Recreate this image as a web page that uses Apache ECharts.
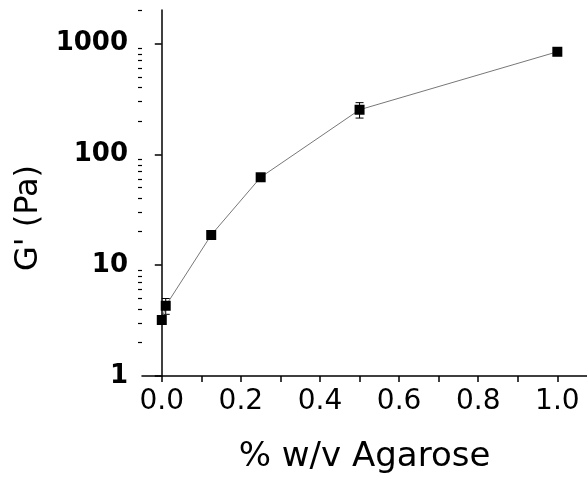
<!DOCTYPE html>
<html>
<head>
<meta charset="utf-8">
<script src="https://cdn.jsdelivr.net/npm/echarts@6/dist/echarts.min.js"></script>
<style>
  html, body { margin: 0; padding: 0; background: #fff; }
  #chart { width: 587px; height: 481px; }
</style>
</head>
<body>
<div id="chart"></div>
<script>
// agarose concentration (% w/v) vs storage modulus G' (Pa)
const agarose = [0, 0.01, 0.125, 0.25, 0.5, 1.0]
const gPrime = [3.2, 4.3, 18.7, 62, 252, 840]
const gErr = [0.2, 0.7, 1.6, 5, 40, 30]

const xTicks = [0, 0.1, 0.2, 0.3, 0.4, 0.5, 0.6, 0.7, 0.8, 0.9, 1.0]
const xLabels = [0, 0.2, 0.4, 0.6, 0.8, 1.0]
const yMinorTicks = [2, 3, 4, 5, 6, 7, 8, 9, 20, 30, 40, 50, 60, 70, 80, 90,
  200, 300, 400, 500, 600, 700, 800, 900, 2000]

const FONT = 'DejaVu Sans'
const myChart = echarts.init(document.getElementById('chart'))

const errData = agarose.map((x, i) => [x, gPrime[i] - gErr[i], gPrime[i] + gErr[i]])

const option = {
  animation: false,
  grid: { left: 142, top: 10, right: 0, bottom: 105 },
  xAxis: {
    type: 'value',
    min: -0.05,
    max: 1.075,
    name: '% w/v Agarose',
    nameLocation: 'middle',
    nameGap: 64,
    nameTextStyle: { fontFamily: FONT, fontSize: 34, color: '#000' },
    axisLine: { lineStyle: { color: '#000', width: 1.5 } },
    axisTick: { customValues: xTicks, length: 6, lineStyle: { color: '#000', width: 1.5 } },
    axisLabel: {
      customValues: xLabels,
      formatter: v => v.toFixed(1),
      fontFamily: FONT, fontSize: 28, color: '#000', margin: 12
    },
    splitLine: { show: false }
  },
  yAxis: [{
    type: 'log',
    logBase: 10,
    min: 1,
    max: 2000,
    name: "G' (Pa)",
    nameLocation: 'middle',
    nameRotate: 90,
    nameGap: 88,
    nameTextStyle: { fontFamily: FONT, fontSize: 32, color: '#000', padding: [0, 0, 0, -50] },
    axisLine: { lineStyle: { color: '#000', width: 1.5 } },
    axisTick: { length: 7, lineStyle: { color: '#000', width: 1.5 } },
    axisLabel: {
      showMaxLabel: false,
      formatter: v => String(v),
      fontFamily: FONT, fontWeight: 'bold', fontSize: 26, color: '#000', margin: 14
    },
    splitLine: { show: false }
  }, {
    type: 'log',
    logBase: 10,
    min: 1,
    max: 2000,
    position: 'left',
    axisLine: { show: false },
    axisTick: { customValues: yMinorTicks, length: 4, lineStyle: { color: '#000', width: 1.2 } },
    axisLabel: { show: false },
    splitLine: { show: false }
  }],
  series: [{
    type: 'line',
    data: agarose.map((x, i) => [x, gPrime[i]]),
    symbol: 'rect',
    symbolSize: 10,
    itemStyle: { color: '#000' },
    lineStyle: { color: '#777', width: 1 },
    z: 3
  }, {
    type: 'custom',
    data: errData,
    renderItem: (params, api) => {
      const top = api.coord([api.value(0), api.value(2)])
      const bot = api.coord([api.value(0), api.value(1)])
      const w = 4
      const style = { stroke: '#000', lineWidth: 1 }
      return {
        type: 'group',
        children: [
          { type: 'line', shape: { x1: top[0], y1: top[1], x2: bot[0], y2: bot[1] }, style },
          { type: 'line', shape: { x1: top[0] - w, y1: top[1], x2: top[0] + w, y2: top[1] }, style },
          { type: 'line', shape: { x1: bot[0] - w, y1: bot[1], x2: bot[0] + w, y2: bot[1] }, style }
        ]
      }
    },
    z: 2
  }]
}

myChart.setOption(option)
</script>
</body>
</html>
